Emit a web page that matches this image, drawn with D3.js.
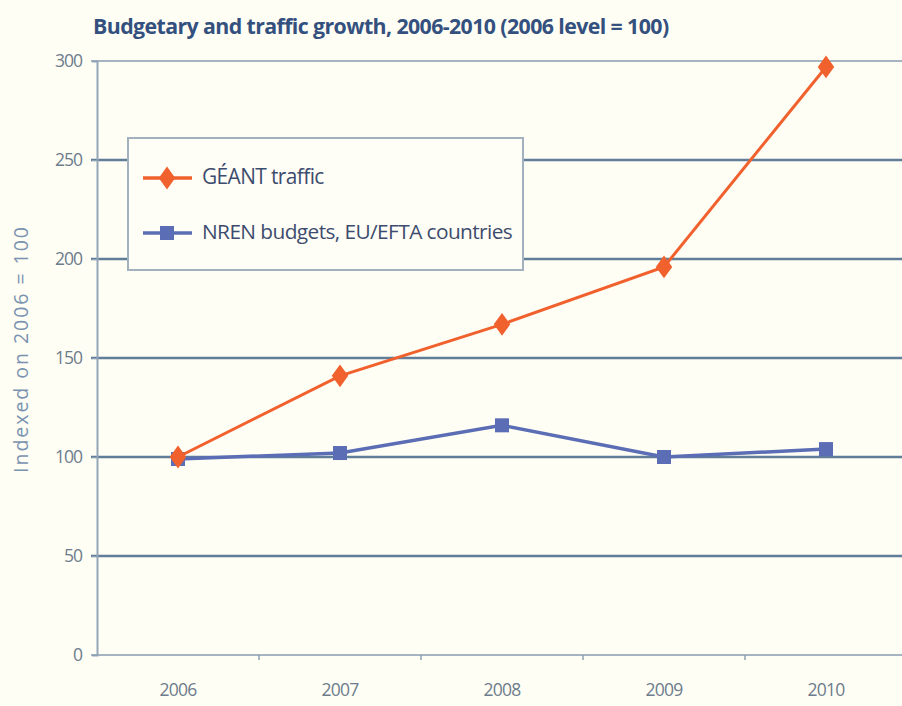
<!DOCTYPE html>
<html><head><meta charset="utf-8">
<script src="https://cdn.jsdelivr.net/npm/d3@7"></script>
<style>
html,body{margin:0;padding:0;background:#fffef4;}
svg{display:block;}
text{font-family:"Open Sans","Noto Sans",sans-serif;}
</style></head>
<body>
<svg id="c" width="902" height="706"></svg>
<script>
const years = ["2006","2007","2008","2009","2010"];
const geantTraffic = [100, 141, 167, 196, 297];
const nrenBudgets = [99, 102, 116, 100, 104];
const yTicks = [0, 50, 100, 150, 200, 250, 300];
const seriesNames = ["GÉANT traffic", "NREN budgets, EU/EFTA countries"];
const title = "Budgetary and traffic growth, 2006-2010 (2006 level = 100)";
const yLabel = "Indexed on 2006 = 100";

const svg = d3.select("#c");
const W = 902, H = 706;
svg.append("rect").attr("width", W).attr("height", H).attr("fill", "#fffef4");

// scale font size so text fits a target width
function fit(sel, target) {
  sel.each(function() {
    const t = d3.select(this);
    const fs = parseFloat(t.attr("font-size"));
    const w = this.getComputedTextLength();
    if (w > 0) t.attr("font-size", (fs * target / w).toFixed(2));
  });
}
// adjust letter-spacing so text fits a target width
function spread(sel, target) {
  sel.each(function() {
    const t = d3.select(this);
    t.attr("letter-spacing", "0px");
    const w = this.getComputedTextLength();
    const n = t.text().length;
    t.attr("letter-spacing", ((target - w) / n).toFixed(2) + "px");
  });
}

const x = d3.scaleBand().domain(years).range([97, 907]).padding(0);
const y = d3.scaleLinear().domain([0, 300]).range([655, 61]);

// grid lines
svg.append("g").selectAll("line").data(yTicks).join("line")
  .attr("x1", 91).attr("x2", W)
  .attr("y1", d => y(d)).attr("y2", d => y(d))
  .attr("stroke", d => (d === 0 || d === 300) ? "#a6b4c2" : "#607e99")
  .attr("stroke-width", d => (d === 0 || d === 300) ? 2 : 2.4);

// y axis
const yAxis = svg.append("g").attr("transform", "translate(97,0)")
  .call(d3.axisLeft(y).tickValues(yTicks).tickSize(5).tickPadding(10));
yAxis.select(".domain").attr("stroke", "#93a6b8").attr("stroke-width", 2);
yAxis.selectAll(".tick line").attr("stroke", "#8aa0b3");
yAxis.selectAll("text").attr("fill", "#6d7c8c").attr("font-size", 17.5)
  .attr("letter-spacing", "-1px");

// x axis
const xAxis = svg.append("g").attr("transform", "translate(0,655)")
  .call(d3.axisBottom(x).tickSize(0).tickPadding(29));
xAxis.select(".domain").remove();
xAxis.selectAll("text").attr("fill", "#6d7c8c").attr("font-size", 17.5)
  .attr("letter-spacing", "-0.8px");
// x tick marks at band boundaries
svg.append("g").selectAll("line").data(years.slice(1)).join("line")
  .attr("x1", d => x(d)).attr("x2", d => x(d))
  .attr("y1", 655).attr("y2", 660)
  .attr("stroke", "#8aa0b3").attr("stroke-width", 1.5);

// title
const tt = svg.append("text").attr("x", 93).attr("y", 34)
  .attr("fill", "#34507e").attr("font-size", 16).attr("font-weight", "bold")
  .attr("letter-spacing", "-0.6px")
  .text(title);
fit(tt, 564);

// y label
const yl = svg.append("text").attr("transform", "translate(28,349) rotate(-90)")
  .attr("text-anchor", "middle").attr("fill", "#7a93b0").attr("font-size", 19.5)
  .text(yLabel);
spread(yl, 248);

const cx = d => x(d) + x.bandwidth() / 2;
const line = d3.line().x((d, i) => cx(years[i])).y(d => y(d));

const orange = "#f0612e", blue = "#5b6db5";

// NREN line
svg.append("path").datum(nrenBudgets).attr("d", line)
  .attr("fill", "none").attr("stroke", blue).attr("stroke-width", 3.5);
svg.append("g").selectAll("rect").data(nrenBudgets).join("rect")
  .attr("x", (d, i) => cx(years[i]) - 7).attr("y", d => y(d) - 7)
  .attr("width", 14).attr("height", 14).attr("fill", blue);

// GEANT line
svg.append("path").datum(geantTraffic).attr("d", line)
  .attr("fill", "none").attr("stroke", orange).attr("stroke-width", 3);
const diamond = d3.symbol().type(d3.symbolDiamond).size(150);
svg.append("g").selectAll("path").data(geantTraffic).join("path")
  .attr("d", diamond)
  .attr("transform", (d, i) => `translate(${cx(years[i])},${y(d)}) scale(1.25,1)`)
  .attr("fill", orange);

// legend
const lg = svg.append("g");
lg.append("rect").attr("x", 128).attr("y", 138).attr("width", 395).attr("height", 132)
  .attr("fill", "#fffef6").attr("stroke", "#a3b0bd").attr("stroke-width", 2);
const legendItems = [
  {name: seriesNames[0], color: orange, sym: "diamond", yy: 178, w: 120},
  {name: seriesNames[1], color: blue, sym: "square", yy: 233, w: 306}
];
legendItems.forEach(it => {
  lg.append("line").attr("x1", 143).attr("x2", 192).attr("y1", it.yy).attr("y2", it.yy)
    .attr("stroke", it.color).attr("stroke-width", 3.5);
  if (it.sym === "diamond") {
    lg.append("path").attr("d", diamond).attr("transform", `translate(167,${it.yy}) scale(1.25,1)`).attr("fill", it.color);
  } else {
    lg.append("rect").attr("x", 160).attr("y", it.yy - 7).attr("width", 14).attr("height", 14).attr("fill", it.color);
  }
  const t = lg.append("text").attr("x", 202).attr("y", it.yy + 6)
    .attr("fill", "#3d4c6e").attr("font-size", 17).attr("letter-spacing", "-0.6px").text(it.name);
  fit(t, it.w);
});
</script>
</body></html>
